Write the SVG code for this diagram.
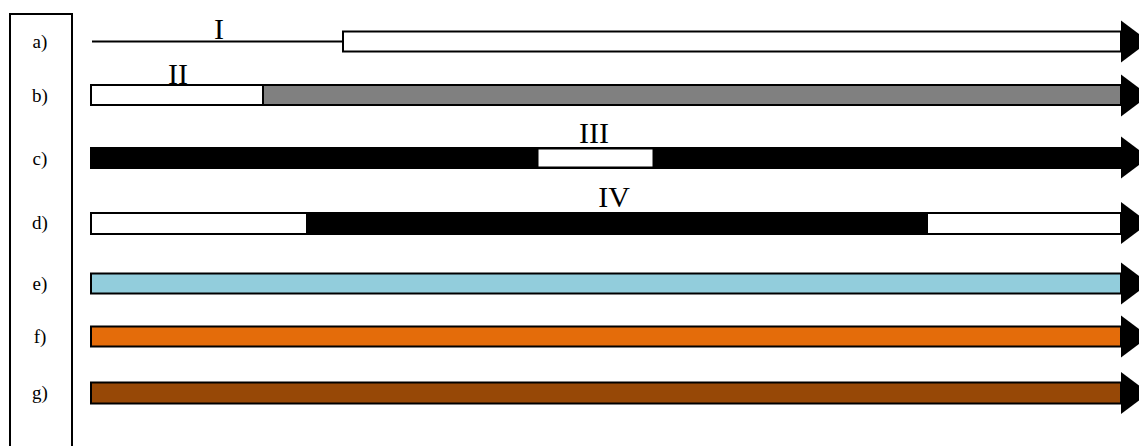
<svg xmlns="http://www.w3.org/2000/svg" width="1139" height="446" viewBox="0 0 1139 446">
  <style>
    .frame { fill: none; stroke: #000; stroke-width: 2; }
    .bar { stroke: #000; stroke-width: 2; }
    .head { fill: #000; stroke: none; }
    .row-label { font-family: "Liberation Serif", "Times New Roman", serif; font-size: 19px; fill: #000; text-anchor: middle; }
    .mark { font-family: "Liberation Serif", "Times New Roman", serif; font-size: 30px; fill: #000; text-anchor: middle; }
  </style>
  <defs>
    <!-- arrow head, drawn around (0,0) = middle of its base -->
    <polygon id="tip" class="head" points="0,-21 28,0 0,21"/>
  </defs>
  <rect width="1139" height="446" fill="#fff"/>

  <!-- label column -->
  <g id="legend">
    <rect class="frame" x="10" y="14" width="62" height="440"/>
    <text class="row-label" x="40" y="48">a)</text>
    <text class="row-label" x="40" y="102">b)</text>
    <text class="row-label" x="40" y="165">c)</text>
    <text class="row-label" x="40" y="229">d)</text>
    <text class="row-label" x="40" y="290">e)</text>
    <text class="row-label" x="40" y="343">f)</text>
    <text class="row-label" x="40" y="399">g)</text>
  </g>

  <g id="row-a">
    <line x1="92" y1="41.5" x2="343" y2="41.5" stroke="#000" stroke-width="2"/>
    <rect class="bar" x="343" y="31.5" width="778" height="20" fill="#fff"/>
    <use href="#tip" x="1121" y="41.5"/>
    <text class="mark" x="219" y="39">I</text>
  </g>

  <g id="row-b">
    <rect class="bar" x="91" y="85" width="172" height="20" fill="#fff"/>
    <rect class="bar" x="263" y="85" width="858" height="20" fill="#808080"/>
    <use href="#tip" x="1121" y="95.5"/>
    <text class="mark" x="178" y="84">II</text>
  </g>

  <g id="row-c">
    <rect class="bar" x="91" y="148" width="1030" height="20" fill="#000"/>
    <rect x="538" y="149" width="115" height="18" fill="#fff" stroke="#000" stroke-width="1"/>
    <use href="#tip" x="1121" y="157.5"/>
    <text class="mark" x="594" y="143">III</text>
  </g>

  <g id="row-d">
    <rect class="bar" x="91" y="213" width="216" height="21" fill="#fff"/>
    <rect class="bar" x="307" y="213" width="620" height="21" fill="#000"/>
    <rect class="bar" x="927" y="213" width="194" height="21" fill="#fff"/>
    <use href="#tip" x="1121" y="223"/>
    <text class="mark" x="614" y="207">IV</text>
  </g>

  <g id="row-e">
    <rect class="bar" x="91" y="273.5" width="1030" height="20" fill="#92CDDC"/>
    <use href="#tip" x="1121" y="283.5"/>
  </g>

  <g id="row-f">
    <rect class="bar" x="91" y="326.5" width="1030" height="20" fill="#E46C0A"/>
    <use href="#tip" x="1121" y="336.5"/>
  </g>

  <g id="row-g">
    <rect class="bar" x="91" y="382.5" width="1030" height="21" fill="#974806"/>
    <use href="#tip" x="1121" y="393"/>
  </g>

  <g id="connectors"/>
</svg>
